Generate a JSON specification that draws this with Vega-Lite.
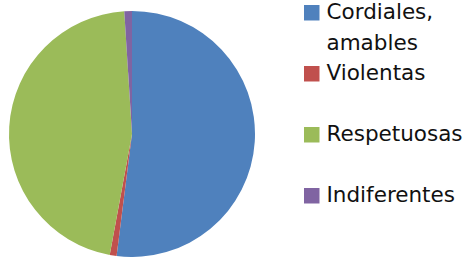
{
  "$schema": "https://vega.github.io/schema/vega-lite/v6.json",
  "width": 246,
  "height": 246,
  "autosize": "none",
  "padding": {"left": 9, "top": 11, "right": 208, "bottom": 0},
  "background": "white",
  "data": {
    "values": [
      {"categoria": "Cordiales, amables", "valor": 52, "orden": 1},
      {"categoria": "Violentas", "valor": 0.9, "orden": 2},
      {"categoria": "Respetuosas", "valor": 46.1, "orden": 3},
      {"categoria": "Indiferentes", "valor": 1, "orden": 4}
    ]
  },
  "mark": {"type": "arc", "outerRadius": 123, "stroke": null},
  "encoding": {
    "theta": {"field": "valor", "type": "quantitative", "stack": true},
    "order": {"field": "orden", "type": "quantitative", "sort": "ascending"},
    "color": {
      "field": "categoria",
      "type": "nominal",
      "scale": {
        "domain": ["Cordiales, amables", "Violentas", "Respetuosas", "Indiferentes"],
        "range": ["#4F81BD", "#C0504D", "#9BBB59", "#8064A2"]
      },
      "legend": {
        "orient": "none",
        "legendX": 292,
        "legendY": -9,
        "title": null,
        "padding": 0,
        "symbolType": "square",
        "symbolSize": 240,
        "symbolStrokeWidth": 0,
        "labelFont": "DejaVu Sans",
        "labelFontSize": 21.5,
        "labelColor": "#111111",
        "labelOffset": 4,
        "labelLimit": 300,
        "labelBaseline": "middle",
        "gridAlign": "all",
        "rowPadding": 7,
        "labelExpr": "datum.label == 'Cordiales, amables' ? ['Cordiales,', 'amables'] : datum.label"
      }
    }
  },
  "config": {
    "view": {"stroke": null},
    "style": {"guide-label": {"lineHeight": 31}}
  }
}
